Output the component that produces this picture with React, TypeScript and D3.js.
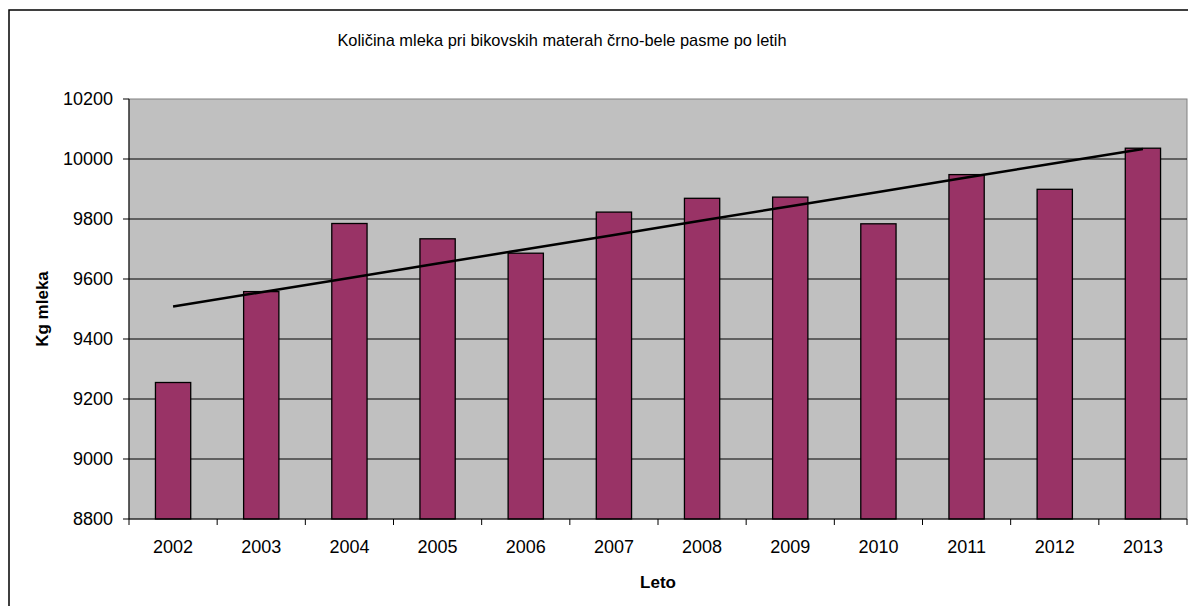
import React from "react";
import * as d3 from "d3";

const years = ["2002","2003","2004","2005","2006","2007","2008","2009","2010","2011","2012","2013"];
const milk = [9255, 9558, 9785, 9734, 9686, 9823, 9869, 9873, 9784, 9948, 9899, 10036];
const yTicks = [8800, 9000, 9200, 9400, 9600, 9800, 10000, 10200];
const title = "Količina mleka pri bikovskih materah črno-bele pasme po letih";
const xTitle = "Leto";
const yTitle = "Kg mleka";

const W = 1188, H = 606;
const plot = { left: 129, right: 1187, top: 99, bottom: 519 };
const FONT = "'Liberation Sans', Arial, sans-serif";

export default function App() {
  const xb = d3.scaleBand<string>().domain(years).range([plot.left, plot.right]);
  const y = d3.scaleLinear().domain([8800, 10200]).range([plot.bottom, plot.top]);

  // linear trend (least squares) of the series
  const n = milk.length;
  const xs = milk.map((_, i) => i + 1);
  const mx = d3.mean(xs)!, my = d3.mean(milk)!;
  const slope = d3.sum(xs.map((xi, i) => (xi - mx) * (milk[i] - my))) / d3.sum(xs.map((xi) => (xi - mx) ** 2));
  const icpt = my - slope * mx;
  const trend = years.map((yr, i) => [xb(yr)! + xb.bandwidth() / 2, y(icpt + slope * (i + 1))] as [number, number]);
  const line = d3.line();

  const barW = xb.bandwidth() / 2.5;

  return (
    <svg width={W} height={H} style={{ position: "absolute", left: 0, top: 0, background: "#fff" }} fontFamily={FONT}>
      <rect x={9} y={10} width={W + 20} height={H + 20} fill="#fff" stroke="#000" strokeWidth={1.5} />
      <text x={562} y={46} textAnchor="middle" fontSize={16.4} fill="#000">{title}</text>
      <rect x={plot.left} y={plot.top} width={plot.right - plot.left} height={plot.bottom - plot.top} fill="#C0C0C0" stroke="#808080" strokeWidth={1} />
      {yTicks.map((t) => (
        <g key={t}>
          {t > 8800 && t < 10200 && <line x1={plot.left} x2={plot.right} y1={y(t)} y2={y(t)} stroke="#000" strokeWidth={1} />}
          <line x1={plot.left - 6} x2={plot.left} y1={y(t)} y2={y(t)} stroke="#000" strokeWidth={1} />
          <text x={113} y={y(t) + 6} textAnchor="end" fontSize={18} fill="#000">{t}</text>
        </g>
      ))}
      {years.map((yr, i) => {
        const cx = xb(yr)! + xb.bandwidth() / 2;
        return (
          <g key={yr}>
            <rect x={cx - barW / 2} y={y(milk[i])} width={barW} height={plot.bottom - y(milk[i])} fill="#993366" stroke="#000" strokeWidth={1.3} />
            <text x={cx} y={553} textAnchor="middle" fontSize={18} fill="#000">{yr}</text>
          </g>
        );
      })}
      {d3.range(n + 1).map((i) => {
        const xx = plot.left + i * xb.step();
        return <line key={i} x1={xx} x2={xx} y1={plot.bottom} y2={plot.bottom + 6} stroke="#000" strokeWidth={1} />;
      })}
      <line x1={plot.left} x2={plot.left} y1={plot.top} y2={plot.bottom} stroke="#000" strokeWidth={1} />
      <line x1={plot.left} x2={plot.right} y1={plot.bottom} y2={plot.bottom} stroke="#000" strokeWidth={1} />
      <path d={line(trend)!} fill="none" stroke="#000" strokeWidth={2.5} />
      <text x={(plot.left + plot.right) / 2} y={588} textAnchor="middle" fontSize={17} fontWeight="bold" fill="#000">{xTitle}</text>
      <text transform={`translate(48,${(plot.top + plot.bottom) / 2}) rotate(-90)`} textAnchor="middle" fontSize={17} fontWeight="bold" fill="#000">{yTitle}</text>
    </svg>
  );
}
